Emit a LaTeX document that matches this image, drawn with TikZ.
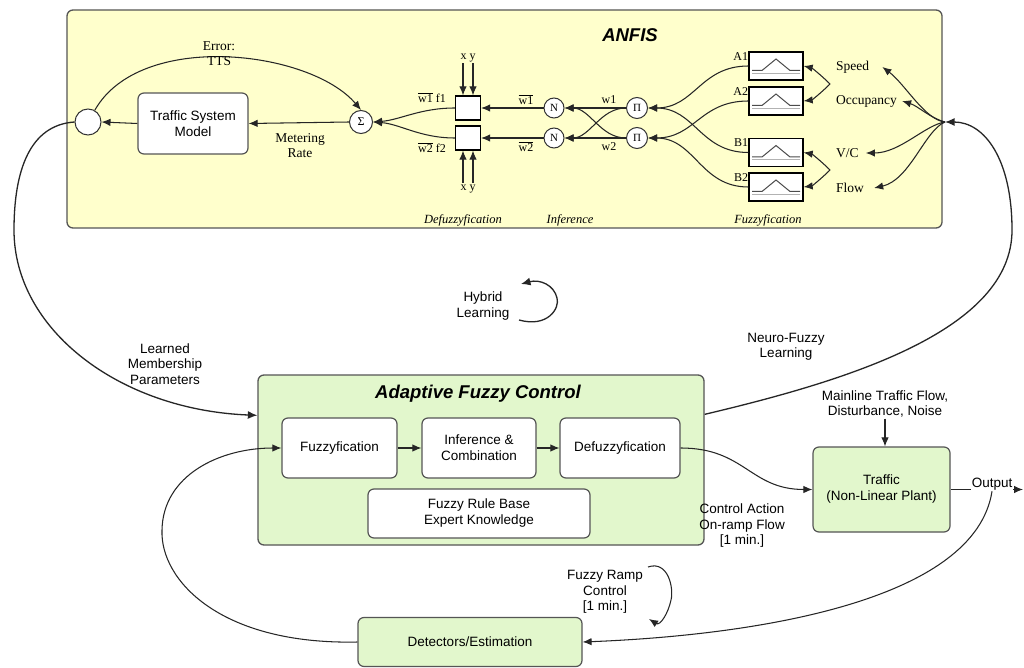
\documentclass[tikz,border=0pt]{standalone}
\usepackage{fontspec}
\setmainfont{Liberation Sans}
\newfontfamily\tnr{Liberation Serif}
\usetikzlibrary{arrows.meta,calc}

\definecolor{anfisfill}{RGB}{255,255,204}
\definecolor{ctrlfill}{RGB}{226,247,204}
\definecolor{edge}{RGB}{85,85,85}

\tikzset{
  panel/.style={draw=edge, line width=1.3pt, rounded corners=6pt, inner sep=0pt},
  wbox/.style={draw=edge, line width=1.2pt, fill=white, rounded corners=6pt, align=center,
               font=\fontsize{13.5}{16}\selectfont, inner sep=0pt},
  gbox/.style={wbox, fill=ctrlfill},
  op/.style={circle, draw=black!80, line width=1pt, fill=white, inner sep=0pt,
             font=\tnr\fontsize{11}{11}\selectfont},
  sq/.style={draw=black, line width=1.3pt, fill=white, minimum width=25pt, minimum height=24pt, inner sep=0pt},
  mf/.style={draw=black, line width=1.3pt, fill=white, minimum width=54pt, minimum height=28pt, inner sep=0pt},
  conn/.style={line width=1.05pt, draw=black!85, -{Latex[length=9pt,width=7.5pt]}},
  bigconn/.style={line width=1.3pt, draw=black!85, -{Latex[length=9.5pt,width=8pt]}},
  lab/.style={align=center, font=\fontsize{13.5}{15.5}\selectfont, inner sep=1pt},
  slab/.style={align=center, font=\tnr\fontsize{13.5}{15}\selectfont, inner sep=1pt},
  sml/.style={font=\tnr\fontsize{12}{12}\selectfont, inner sep=1pt},
  sect/.style={font=\tnr\itshape\fontsize{12.5}{12.5}\selectfont, inner sep=1pt},
  ttl/.style={font=\bfseries\itshape\fontsize{18.5}{20}\selectfont, inner sep=0pt},
}

\begin{document}
\begin{tikzpicture}[x=1pt,y=-1pt]
\fill[white] (0,0) rectangle (1024,668);
\useasboundingbox (0,0) rectangle (1024,668);

% ---------------- ANFIS panel ----------------
\node[panel, fill=anfisfill, minimum width=875pt, minimum height=218pt] (anfis) at (504.5,119) {};
\node[ttl] (anfisT) at (630,35) {ANFIS};

\node[op, minimum size=26pt] (out) at (88,122) {};
\node[wbox, minimum width=110pt, minimum height=61pt] (tsm) at (193,123.5) {Traffic System\\Model};
\node[op, minimum size=23pt, font=\tnr\fontsize{12}{12}\selectfont] (sig) at (361,122) {Σ};

\node[sq] (s1) at (468,108) {};
\node[sq] (s2) at (468,138) {};
\node[op, minimum size=20pt] (n1) at (554,108) {N};
\node[op, minimum size=20pt] (n2) at (554,138) {N};
\node[op, minimum size=21pt] (p1) at (637,108) {Π};
\node[op, minimum size=21pt] (p2) at (637,138) {Π};

\node[mf] (a1) at (776,66) {};
\node[mf] (a2) at (776,101) {};
\node[mf] (b1) at (776,152.5) {};
\node[mf] (b2) at (776,187) {};

% membership function glyphs
\foreach \m in {a1,a2,b1,b2}{
  \draw[gray!60, line width=0.8pt] ($(\m.center)+(-24,7)$) -- ($(\m.center)+(24,7)$);
  \draw[black!70, line width=1pt] ($(\m.center)+(-24,4.5)$) -- ($(\m.center)+(-14,4.5)$)
        -- ($(\m.center)+(0,-7)$) -- ($(\m.center)+(14,4.5)$) -- ($(\m.center)+(24,4.5)$);
}
\node[sml, anchor=east] at ($(a1.north west)+(1,5)$) {A1};
\node[sml, anchor=east] at ($(a2.north west)+(1,5)$) {A2};
\node[sml, anchor=east] at ($(b1.north west)+(1,5)$) {B1};
\node[sml, anchor=east] at ($(b2.north west)+(1,5)$) {B2};

% input variables
\node[slab, anchor=west] (spd) at (835,67) {Speed};
\node[slab, anchor=west] (occ) at (835,101) {Occupancy};
\node[slab, anchor=west] (vc)  at (835,153) {V/C};
\node[slab, anchor=west] (flw) at (835,188) {Flow};

\coordinate (hub) at (945,122);
\coordinate (fa) at (830,84);
\coordinate (fb) at (830,170);

\draw[conn] (hub) .. controls (925,120) and (905,84) .. ([xshift=12pt]spd.east);
\draw[conn] (hub) .. controls (930,118) and (918,106) .. ([xshift=4pt]occ.east);
\draw[conn] (hub) .. controls (925,125) and (900,153) .. ([xshift=6pt]vc.east);
\draw[conn] (hub) .. controls (925,130) and (910,180) .. ([xshift=9pt]flw.east);

\draw[conn] (fa) .. controls (822,76) and (812,68) .. (a1.east);
\draw[conn] (fa) .. controls (822,92) and (812,100) .. (a2.east);
\draw[conn] (fb) .. controls (822,162) and (812,154) .. (b1.east);
\draw[conn] (fb) .. controls (822,178) and (812,186) .. (b2.east);

% fuzzification -> rule layer
\draw[conn] (a1.west) .. controls (700,66) and (695,108) .. (p1.east);
\draw[conn] (b1.west) .. controls (700,152.5) and (695,108) .. (p1.east);
\draw[conn] (a2.west) .. controls (700,101) and (695,138) .. (p2.east);
\draw[conn] (b2.west) .. controls (700,187) and (695,138) .. (p2.east);

% rule layer -> normalisation
\draw[conn] (p1.west) -- (n1.east);
\draw[conn] (p2.west) -- (n2.east);
\draw[conn] (p1.west) .. controls (600,108) and (590,138) .. (n2.east);
\draw[conn] (p2.west) .. controls (600,138) and (590,108) .. (n1.east);
\node[sml] at (609,100) {w1};
\node[sml] at (609,147) {w2};

% normalisation -> consequent
\draw[conn] (n1.west) -- (s1.east);
\draw[conn] (n2.west) -- (s2.east);
\node[sml] at (526,100) {$\overline{\hbox{w1}}$};
\node[sml] at (526,147) {$\overline{\hbox{w2}}$};

\draw[conn] ($(s1.north)+(-5,-32)$) -- ($(s1.north)+(-5,0)$);
\draw[conn] ($(s1.north)+(5,-32)$) -- ($(s1.north)+(5,0)$);
\node[sml] at (468,58) {x y};
\draw[conn] ($(s2.south)+(-5,32)$) -- ($(s2.south)+(-5,0)$);
\draw[conn] ($(s2.south)+(5,32)$) -- ($(s2.south)+(5,0)$);
\node[sml] at (468,189) {x y};

% consequent -> sum
\draw[conn] (s1.west) .. controls (420,108) and (400,120) .. (sig.east);
\draw[conn] (s2.west) .. controls (420,138) and (400,124) .. (sig.east);
\node[sml] at (432,98) {$\overline{\hbox{w1}}$ f1};
\node[sml] at (432,148) {$\overline{\hbox{w2}}$ f2};

% sum -> model -> comparison
\draw[conn] (sig.west) -- (tsm.east);
\node[slab] at (300,146) {Metering\\Rate};
\draw[conn] (tsm.west) -- (out.east);
\draw[conn] (out.60) .. controls (140,30) and (310,50) .. (sig.north);
\node[slab] at (219,54) {Error:\\TTS};

\node[sect] at (463,220) {Defuzzyfication};
\node[sect] at (570,220) {Inference};
\node[sect] at (768,220) {Fuzzyfication};

% ---------------- Adaptive fuzzy control ----------------
\node[panel, fill=ctrlfill, minimum width=446pt, minimum height=170pt] (afc) at (481,460) {};
\node[ttl] (afcT) at (478,394) {Adaptive Fuzzy Control};

\node[wbox, minimum width=115pt, minimum height=60pt] (fz)  at (339.5,448) {Fuzzyfication};
\node[wbox, minimum width=114pt, minimum height=60pt] (inf) at (479,448) {Inference \&\\Combination};
\node[wbox, minimum width=120pt, minimum height=60pt] (dfz) at (620,448) {Defuzzyfication};
\node[wbox, minimum width=222pt, minimum height=49pt] (rb)  at (479,513.5) {Fuzzy Rule Base\\Expert Knowledge};

\draw[conn] (fz.east) -- (inf.west);
\draw[conn] (inf.east) -- (dfz.west);

% plant and detectors
\node[gbox, minimum width=137pt, minimum height=85pt] (trf) at (881.5,489.5) {Traffic\\(Non-Linear Plant)};
\node[lab] (dist) at (885,404) {Mainline Traffic Flow,\\Disturbance, Noise};
\draw[conn] (dist.south) -- (dist.south |- trf.north);

\node[gbox, minimum width=224pt, minimum height=49pt] (det) at (470,642) {Detectors/Estimation};

\coordinate (outEnd) at (1023,489.5);
\draw[conn] (trf.east) -- (outEnd);
\node[lab, fill=white] (outl) at (992,484) {Output};

\draw[conn] (dfz.east) .. controls (745,448) and (750,489.5) .. (trf.west);
\node[lab] at (742,526) {Control Action\\On-ramp Flow\\{}[1 min.]};

\draw[conn] (outl.south) .. controls (975,600) and (760,635) .. (det.east);
\draw[conn] (det.west) .. controls (220,645) and (160,580) .. (162,530)
            .. controls (163,475) and (220,448) .. (fz.west);

\draw[conn] (648,567) .. controls (668,560) and (674,588) .. (671,600)
            .. controls (668,614) and (660,626) .. (649,619);
\node[lab] at (605,592) {Fuzzy Ramp\\Control\\{}[1 min.]};

% learning loops
\draw[bigconn] (out.west) .. controls (30,125) and (14,170) .. (14,230)
            .. controls (14,330) and (120,410) .. ($(afc.north west)+(0,41)$);
\node[lab] at (165,364) {Learned\\Membership\\Parameters};

\draw[bigconn] ($(afc.north east)+(0,40)$) .. controls (850,380) and (1012,330) .. (1012,230)
            .. controls (1012,160) and (985,122) .. (hub);
\node[lab] at (786,347) {Neuro-Fuzzy\\Learning};

\draw[bigconn] (519,320) .. controls (548,328) and (560,308) .. (557,298)
            .. controls (554,285) and (540,279) .. (521,284);
\node[lab] at (483,306) {Hybrid\\Learning};

\end{tikzpicture}
\end{document}
